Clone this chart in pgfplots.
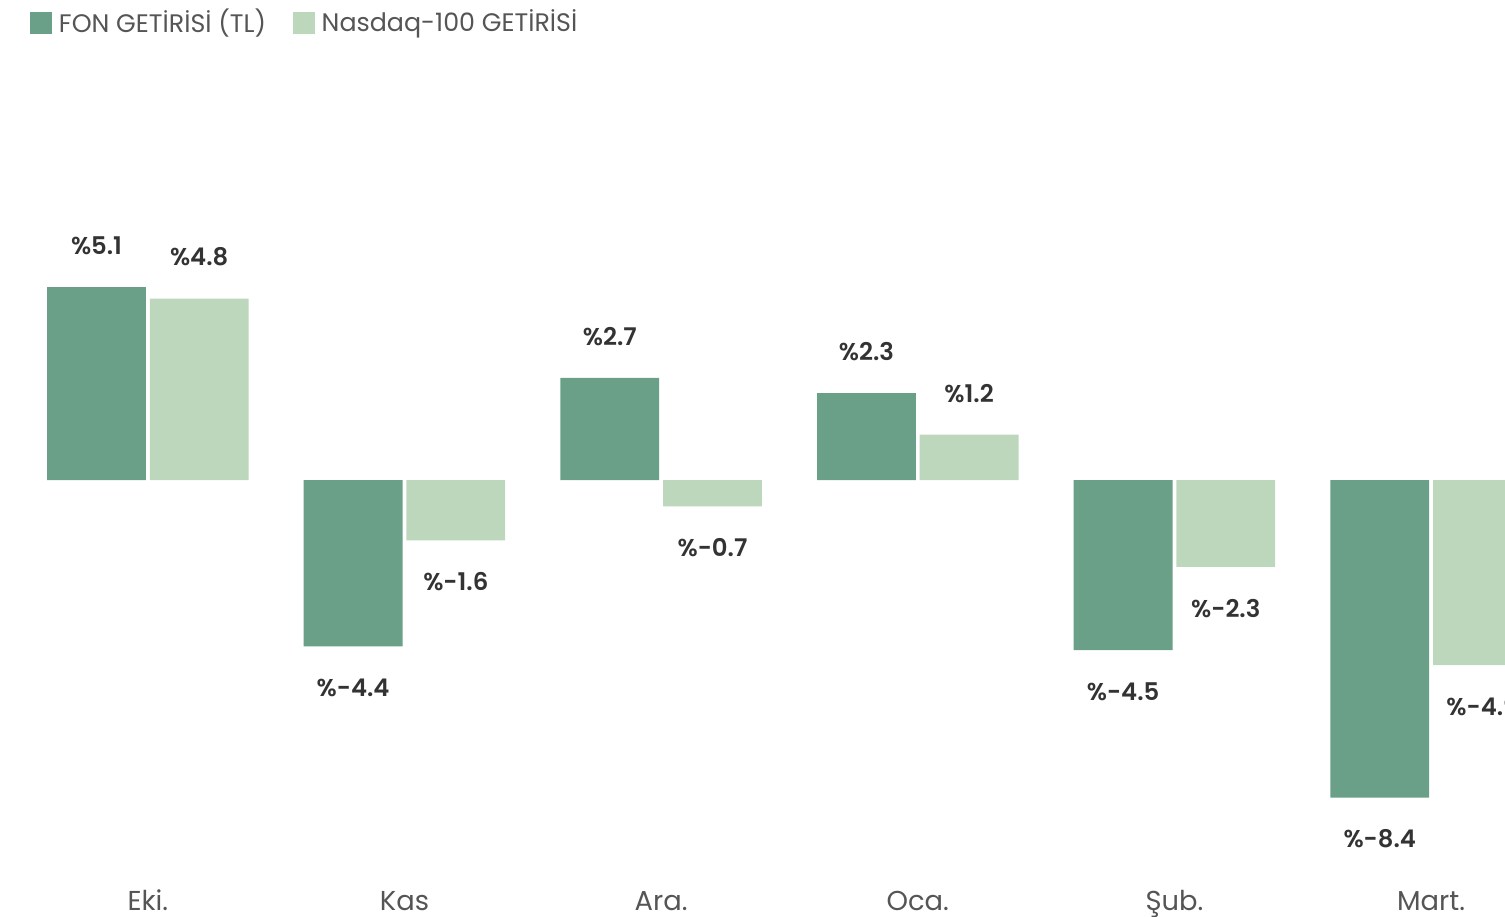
\documentclass[border=0pt]{standalone}
\usepackage{pgfplots}
\pgfplotsset{compat=1.18}
\usepackage{fontspec}
\setmainfont{Poppins}
\newfontfamily\lblfont{Poppins SemiBold}
\definecolor{fon}{HTML}{6A9F88}
\definecolor{nas}{HTML}{BCD7BB}
\definecolor{txt}{HTML}{333333}
\definecolor{lgd}{HTML}{555555}
\begin{document}
\begin{tikzpicture}
\begin{axis}[
  scale only axis, width=451.5pt, height=261pt,
  xmin=-0.576, xmax=5.288, ymin=-10.317, ymax=12.70,
  axis line style={draw=none},
  ytick=\empty, xtick={0,...,5},
  xticklabels={Eki.,Kas,Ara.,Oca.,Şub.,Mart.},
  major tick length=0pt,
  xticklabel style={font=\fontsize{8.2}{10}\selectfont, text=lgd, anchor=base, yshift=-12.3pt},
  ybar, bar width=0.385,
  nodes near coords={\%\pgfmathprintnumber[fixed,precision=1,fixed zerofill,assume math mode=true]{\pgfplotspointmeta}},
  every node near coord/.append style={font=\fontsize{7.3}{9}\lblfont, text=txt, inner ysep=9.5pt},
  legend columns=2,
  legend style={draw=none, fill=none, at={(axis description cs:0,1)}, anchor=north west,
    xshift=9pt, yshift=-0.6pt, inner sep=0pt, outer sep=0pt,
    font=\fontsize{7.6}{9.5}\selectfont, text=lgd,
    /tikz/every even column/.append style={column sep=6pt}},
  legend cell align=left,
  legend image code/.code={\fill[#1] (0pt,-3.4pt) rectangle (6.7pt,3.4pt);},
]
\addplot[fill=fon, draw=none, bar shift=-0.2] coordinates {(0,5.1) (1,-4.4) (2,2.7) (3,2.3) (4,-4.5) (5,-8.4)};
\addlegendentry{FON GETİRİSİ (TL)}
\addplot[fill=nas, draw=none, bar shift=0.2] coordinates {(0,4.8) (1,-1.6) (2,-0.7) (3,1.2) (4,-2.3) (5,-4.9)};
\addlegendentry{Nasdaq-100 GETİRİSİ}
\coordinate (tl) at (rel axis cs:0,1);
\coordinate (br) at (rel axis cs:1,0);
\end{axis}
\pgfresetboundingbox
\path[use as bounding box] (tl) rectangle ([yshift=-14.1pt]br);
\end{tikzpicture}
\end{document}
